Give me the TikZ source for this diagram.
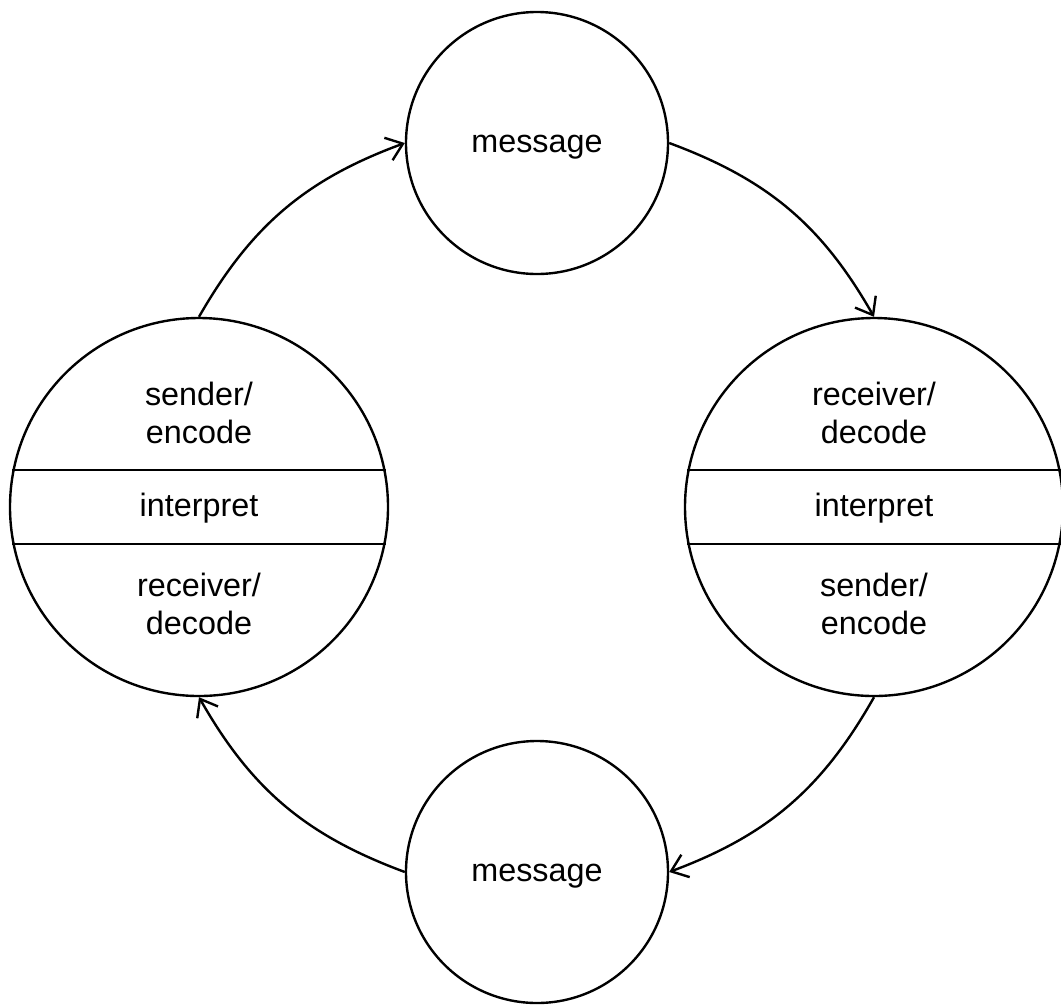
\documentclass[tikz,border=0pt]{standalone}
\usepackage{fontspec}
\setmainfont{Liberation Sans}
\usetikzlibrary{arrows.meta}
\usetikzlibrary{positioning}

\begin{document}
\begin{tikzpicture}[
		every node/.style={font=\fontsize{23}{27}\selectfont},
		bubble/.style={draw, circle, line width=1.7pt, inner sep=0pt, text height=13pt, text depth=0pt},
		small/.style={bubble, minimum size=6.55cm},
		big/.style={bubble, minimum size=9.45cm},
		band/.style={line width=1.7pt},
		flow/.style={-{Straight Barb[length=11pt,width=17pt]}, line width=1.7pt},
		lbl/.style={align=center}
	]
	\useasboundingbox (0,0) rectangle (26.525,-25.1);
	
	% Messages
	\node[small] (mtop) at (13.425,-3.575) {message};
	\node[small] (mbot) at (13.425,-21.8) {message};
	
	% Left side
	\node[big] (sl) at (4.975,-12.675) {interpret};
	\draw[band] ([shift={(0.09,0.925)}]sl.west) -- ([shift={(-0.09,0.925)}]sl.east);
	\draw[band] ([shift={(0.09,-0.925)}]sl.west) -- ([shift={(-0.09,-0.925)}]sl.east);
	\node[lbl] (sl-up) at ([yshift=2.34cm]sl.center) {sender/\\encode};
	\node[lbl] (sl-down) at ([yshift=-2.425cm]sl.center) {receiver/\\decode};
	
	% Right side
	\node[big] (sr) at (21.85,-12.675) {interpret};
	\draw[band] ([shift={(0.09,0.925)}]sr.west) -- ([shift={(-0.09,0.925)}]sr.east);
	\draw[band] ([shift={(0.09,-0.925)}]sr.west) -- ([shift={(-0.09,-0.925)}]sr.east);
	\node[lbl] (sr-up) at ([yshift=2.34cm]sr.center) {receiver/\\decode};
	\node[lbl] (sr-down) at ([yshift=-2.425cm]sr.center) {sender/\\encode};
	
	% Cycle
	\draw[flow] (sl.north) to[bend left=20] (mtop.west);
	\draw[flow] (mtop.east) to[bend left=20] (sr.north);
	\draw[flow] (sr.south) to[bend left=20] (mbot.east);
	\draw[flow] (mbot.west) to[bend left=20] (sl.south);
	
\end{tikzpicture}
\end{document}
